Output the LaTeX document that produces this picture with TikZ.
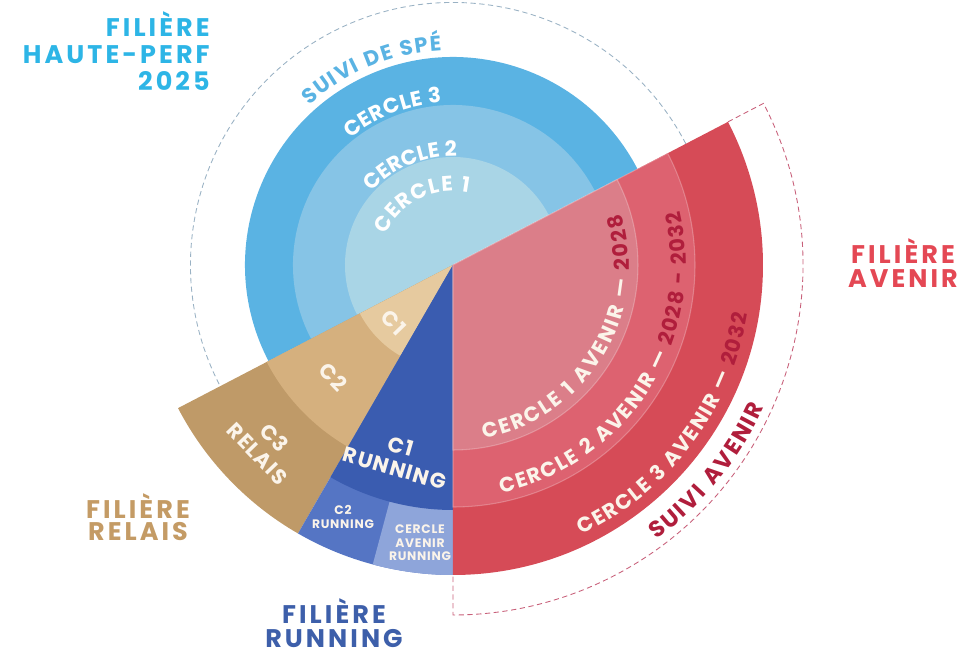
\documentclass[tikz,border=0pt]{standalone}
\usepackage{fontspec}
\setmainfont{Poppins}
\newfontfamily\poppinsLS[LetterSpace=6]{Poppins}
\newfontfamily\poppinsTitre[LetterSpace=12]{Poppins}
\usetikzlibrary{decorations.text}

\definecolor{bleuA}{HTML}{A9D5E6}
\definecolor{bleuB}{HTML}{86C4E6}
\definecolor{bleuC}{HTML}{5AB3E3}
\definecolor{bleuTitre}{HTML}{2DB5E6}
\definecolor{bleuTiret}{HTML}{9AB2C4}
\definecolor{beigeA}{HTML}{E6CA9F}
\definecolor{beigeB}{HTML}{D5B07E}
\definecolor{beigeC}{HTML}{BF9A68}
\definecolor{beigeTitre}{HTML}{C49B65}
\definecolor{runA}{HTML}{3A5CB0}
\definecolor{runB}{HTML}{5575C4}
\definecolor{runC}{HTML}{8EA5DA}
\definecolor{runTitre}{HTML}{3D5FAA}
\definecolor{rougeA}{HTML}{DB7E89}
\definecolor{rougeB}{HTML}{DD6270}
\definecolor{rougeC}{HTML}{D64B57}
\definecolor{rougeTitre}{HTML}{E44854}
\definecolor{rougeFonce}{HTML}{B01E3C}
\definecolor{rougeTiret}{HTML}{C8607A}
\definecolor{creme}{HTML}{FBF4EA}

\newcommand{\ftbleu}{\fontsize{12}{12}\selectfont\bfseries}
\newcommand{\ftrouge}{\fontsize{11.8}{12}\selectfont\bfseries}

\tikzset{
  courbe/.style={decorate, decoration={text along path, text align=fit to path}},
  secteur/.style={font=\poppinsLS\fontsize{12}{13}\selectfont\bfseries, text=creme, inner sep=0pt, align=center},
  petit/.style={font=\poppinsLS\fontsize{7}{7.6}\selectfont\bfseries, text=creme, inner sep=0pt, align=center},
  filiere/.style={font=\poppinsTitre\fontsize{14.5}{#1}\selectfont\bfseries, inner sep=0pt, align=center},
  filiere/.default=14,
  anneau/.style={draw=white, draw opacity=0.25, line width=0.6pt}
}

\begin{document}
\begin{tikzpicture}
  \def\rbleu{4.16}
  \def\rrouge{6.2}
  \def\coupe{27.5}
  \useasboundingbox (-9.06,-7.78) rectangle (10.44,5.3);
  % Filiere haute-perf
  \fill[bleuC] (0,0) -- (\coupe:\rbleu) arc (\coupe:180+\coupe:\rbleu) -- cycle;
  \fill[bleuB] (0,0) -- (\coupe:3.2) arc (\coupe:180+\coupe:3.2) -- cycle;
  \fill[bleuA] (0,0) -- (\coupe:2.16) arc (\coupe:180+\coupe:2.16) -- cycle;
  \draw[bleuTiret, line width=0.5pt, dash pattern=on 3pt off 2pt] (\coupe:5.25) arc (\coupe:180+\coupe:5.25);
  \path[courbe, decoration={text={|\ftbleu\color{bleuC}|SUIVI DE SPÉ}}] (132:4.3) arc (132:93:4.3);
  \path[courbe, decoration={text={|\ftbleu\color{white}|CERCLE 3}}] (129:3.26) arc (129:94:3.26);
  \path[courbe, decoration={text={|\ftbleu\color{white}|CERCLE 2}}] (138:2.18) arc (138:88:2.18);
  \path[courbe, decoration={text={|\ftbleu\color{white}|CERCLE 1}}] (156:1.48) arc (156:78:1.48);
  % Filiere relais
  \fill[beigeC] (0,0) -- (180+\coupe:\rrouge) arc (180+\coupe:240:\rrouge) -- cycle;
  \fill[beigeB] (0,0) -- (180+\coupe:4.2) arc (180+\coupe:240:4.2) -- cycle;
  \fill[beigeA] (0,0) -- (180+\coupe:2.1) arc (180+\coupe:240:2.1) -- cycle;
  \node[secteur, rotate=-46] (c1relais) at (224:1.66) {C1};
  \node[secteur, rotate=-46] (c2relais) at (223:3.28) {C2};
  \node[secteur, rotate=-46] (c3relais) at (224:5.2) {C3\\RELAIS};
  % Filiere running
  \fill[runB] (0,0) -- (240:\rrouge) arc (240:270:\rrouge) -- cycle;
  \fill[runC] (0,0) -- (255:\rrouge) arc (255:270:\rrouge) -- cycle;
  \fill[runA] (0,0) -- (240:4.9) arc (240:270:4.9) -- cycle;
  \node[secteur, rotate=-16] (c1run) at (254:4.0) {C1\\RUNNING};
  \node[petit] (c2run) at (-2.2,-5.04) {C2\\RUNNING};
  \node[petit] (avenirrun) at (-0.66,-5.56) {CERCLE\\AVENIR\\RUNNING};
  % Filiere avenir
  \fill[rougeC] (0,0) -- (-90:\rrouge) arc (-90:\coupe:\rrouge) -- cycle;
  \filldraw[rougeB, anneau] (0,0) -- (-90:4.84) arc (-90:\coupe:4.84) -- cycle;
  \filldraw[rougeA, anneau] (0,0) -- (-90:3.7) arc (-90:\coupe:3.7) -- cycle;
  \draw[rougeTiret, line width=0.5pt, dash pattern=on 3pt off 2pt] (\coupe:\rrouge) -- (\coupe:7) arc (\coupe:-90:7) -- (-90:\rrouge);
  \path[courbe, decoration={text={|\ftrouge\color{creme}|CERCLE 1 AVENIR — |\ftrouge\color{rougeFonce}|2028}}] (-80:3.52) arc (-80:17:3.52);
  \path[courbe, decoration={text={|\ftrouge\color{creme}|CERCLE 2 AVENIR — |\ftrouge\color{rougeFonce}|2028 - 2032}}] (-78:4.66) arc (-78:13.5:4.66);
  \path[courbe, decoration={text={|\ftrouge\color{creme}|CERCLE 3 AVENIR — |\ftrouge\color{rougeFonce}|2032}}] (-64.5:5.98) arc (-64.5:-9.5:5.98);
  \path[courbe, decoration={text={|\fontsize{13}{13}\selectfont\bfseries\color{rougeFonce}|SUIVI AVENIR}}] (-53.5:6.84) arc (-53.5:-24.5:6.84);
  % Titres
  \node[filiere=15.5, align=right, anchor=east, text=bleuTitre] (hautperf) at (-4.86,4.28) {FILIÈRE\\HAUTE-PERF\\2025};
  \node[filiere, text=rougeTitre] (avenir) at (9.0,0.04) {FILIÈRE\\AVENIR};
  \node[filiere=12.8, text=beigeTitre] (relais) at (-6.3,-5.04) {FILIÈRE\\RELAIS};
  \node[filiere, text=runTitre] (running) at (-2.38,-7.16) {FILIÈRE\\RUNNING};
\end{tikzpicture}
\end{document}
